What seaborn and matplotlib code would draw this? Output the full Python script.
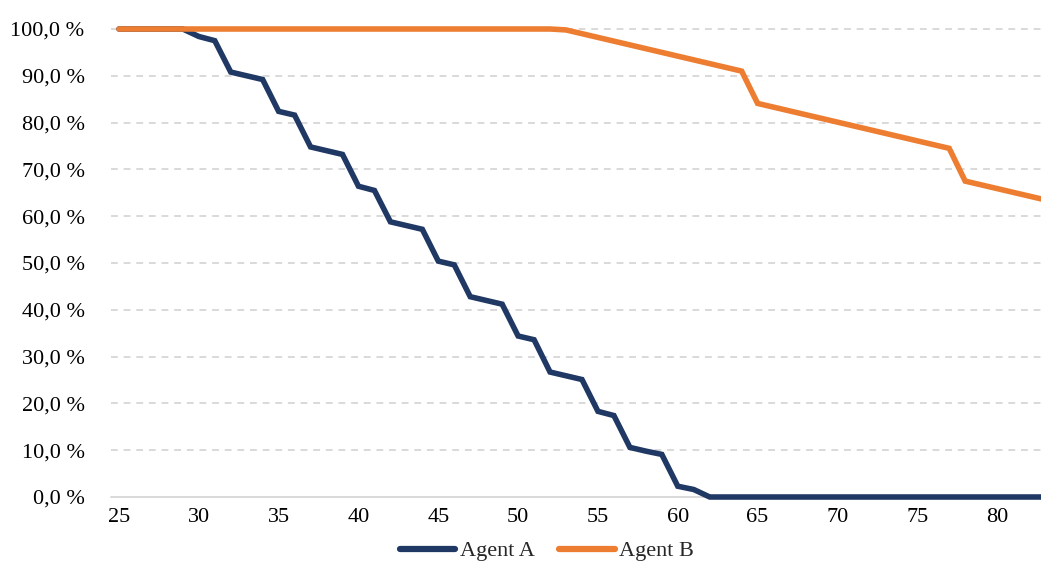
import numpy as np
import pandas as pd
import matplotlib
matplotlib.use("Agg")
import matplotlib.pyplot as plt
from matplotlib.ticker import FuncFormatter, MultipleLocator
import seaborn as sns

# Age axis
ages = list(range(25, 84))

# Share remaining (%) per age
agent_a = [100.0, 100.0, 100.0, 100.0, 100.0,   # 25-29
           98.4, 97.5, 90.8, 90.0, 89.2,         # 30-34
           82.4, 81.6, 74.8, 74.0, 73.2,         # 35-39
           66.4, 65.5, 58.8, 58.0, 57.2,         # 40-44
           50.4, 49.6, 42.8, 42.0, 41.2,         # 45-49
           34.4, 33.6, 26.7, 25.9, 25.1,         # 50-54
           18.3, 17.4, 10.6, 9.8, 9.1,           # 55-59
           2.3, 1.6, 0.0, 0.0, 0.0,              # 60-64
           0.0, 0.0, 0.0, 0.0, 0.0,              # 65-69
           0.0, 0.0, 0.0, 0.0, 0.0,              # 70-74
           0.0, 0.0, 0.0, 0.0, 0.0,              # 75-79
           0.0, 0.0, 0.0, 0.0]                   # 80-83

agent_b = [100.0, 100.0, 100.0, 100.0, 100.0,   # 25-29
           100.0, 100.0, 100.0, 100.0, 100.0,   # 30-34
           100.0, 100.0, 100.0, 100.0, 100.0,   # 35-39
           100.0, 100.0, 100.0, 100.0, 100.0,   # 40-44
           100.0, 100.0, 100.0, 100.0, 100.0,   # 45-49
           100.0, 100.0, 100.0, 99.8, 99.0,     # 50-54
           98.2, 97.4, 96.6, 95.8, 95.0,        # 55-59
           94.2, 93.4, 92.6, 91.8, 91.0,        # 60-64
           84.1, 83.3, 82.5, 81.7, 80.9,        # 65-69
           80.1, 79.3, 78.5, 77.7, 76.9,        # 70-74
           76.1, 75.3, 74.5, 67.5, 66.7,        # 75-79
           65.9, 65.1, 64.3, 63.5]              # 80-83

series_names = ["Agent A", "Agent B"]
colors = {"Agent A": "#203864", "Agent B": "#ED7D31"}

df = pd.concat([
    pd.DataFrame({"age": ages, "value": agent_a, "agent": series_names[0]}),
    pd.DataFrame({"age": ages, "value": agent_b, "agent": series_names[1]}),
])

sns.set_theme(style="white")
plt.rcParams["font.family"] = ["Liberation Serif", "DejaVu Serif"]

fig = plt.figure(figsize=(10.41, 5.65), dpi=100)
ax = fig.add_axes([111 / 1041, 1 - 497 / 565, (1041 - 111) / 1041, (497 - 29) / 565])

sns.lineplot(data=df, x="age", y="value", hue="agent", palette=colors,
             hue_order=series_names, linewidth=4.0, ax=ax, legend=False)
# later series drawn above earlier ones
for i, ln in enumerate(ax.lines):
    ln.set_clip_on(False)
    ln.set_zorder(3 + i)
    ln.set_solid_joinstyle("miter")

ax.set_xlim(24.5, 82.75)
ax.set_ylim(0, 100)
ax.xaxis.set_major_locator(MultipleLocator(5))
ax.yaxis.set_major_locator(MultipleLocator(10))
ax.yaxis.set_major_formatter(
    FuncFormatter(lambda v, p: f"{v:.1f}".replace(".", ",") + " %"))

# Dashed horizontal gridlines, solid baseline
for yv in range(10, 101, 10):
    ax.axhline(yv, color="#D9D9D9", linewidth=1.4, linestyle=(0, (3.5, 3.0)),
               zorder=1, clip_on=False)
ax.axhline(0, color="#D9D9D9", linewidth=1.4, zorder=1, clip_on=False)

for s in ax.spines.values():
    s.set_visible(False)

ax.tick_params(axis="both", length=0, labelsize=16, colors="black")
ax.tick_params(axis="y", pad=19)
ax.tick_params(axis="x", pad=8)
ax.set_xlabel("")
ax.set_ylabel("")

handles = [plt.Line2D([], [], color=colors[n], linewidth=4.5,
                      solid_capstyle="round") for n in series_names]
fig.legend(handles, series_names, loc="center", ncol=2,
           bbox_to_anchor=(547 / 1041, 1 - 551 / 565), frameon=False,
           fontsize=16, handlelength=2.5, handletextpad=0.2,
           columnspacing=1.1, borderaxespad=0, borderpad=0)

fig.savefig("out.png", dpi=100)
